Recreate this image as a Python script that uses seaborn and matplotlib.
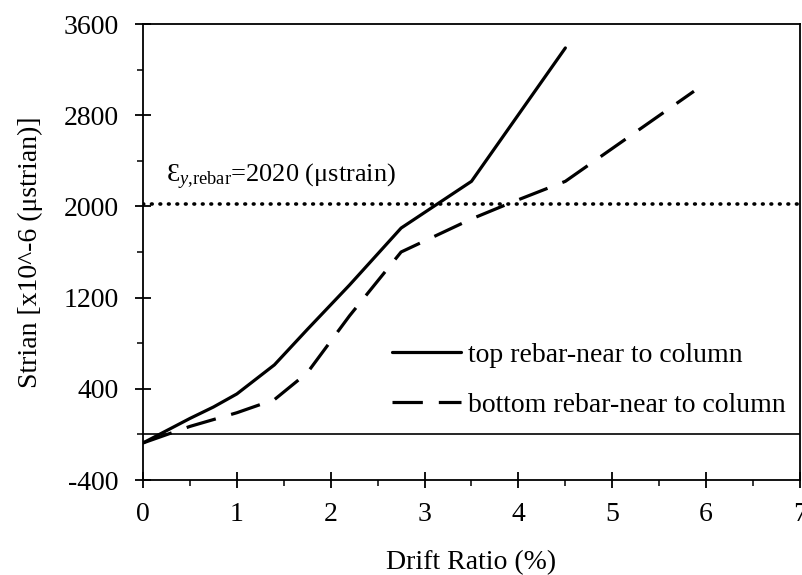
import matplotlib
matplotlib.use("Agg")
import matplotlib.pyplot as plt
from matplotlib.ticker import MultipleLocator, FixedLocator
import seaborn as sns
import pandas as pd

# Data
top_drift = [0.0, 0.5, 0.75, 1.0, 1.4, 1.75, 2.2, 2.75, 3.5, 4.5]
top_strain = [-75, 140, 240, 355, 610, 920, 1310, 1810, 2220, 3390]
bot_drift = [0.0, 0.5, 1.0, 1.4, 1.75, 2.2, 2.75, 3.5, 3.93, 4.5, 5.87]
bot_strain = [-75, 70, 190, 305, 540, 1040, 1600, 1890, 2036, 2220, 3010]
yield_strain = 2020
y_major_ticks = [-400, 400, 1200, 2000, 2800, 3600]
y_minor_ticks = [0, 800, 1600, 2400, 3200]
series_labels = ["top rebar-near to column", "bottom rebar-near to column"]
x_label = "Drift Ratio (%)"
y_label = "Strian [x10^-6 (\u03bcstrian)]"
annot_text = "\u0190$_{\\mathit{y}{,}\\mathrm{rebar}}$=2020 (\u03bcstrain)"

sns.set_style("ticks")
plt.rcParams["font.family"] = ["Liberation Serif", "DejaVu Serif"]
plt.rcParams["mathtext.fontset"] = "custom"
plt.rcParams["mathtext.rm"] = "Liberation Serif"
plt.rcParams["mathtext.it"] = "Liberation Serif:italic"
plt.rcParams["axes.unicode_minus"] = False
for k in ["text.color", "axes.labelcolor", "xtick.color", "ytick.color",
          "axes.edgecolor"]:
    plt.rcParams[k] = "black"

fig = plt.figure(figsize=(8.03, 5.75), dpi=100)
ax = fig.add_axes([143 / 803, 1 - 480 / 575, 657 / 803, 456 / 575])

df_top = pd.DataFrame({"drift": top_drift, "strain": top_strain})
df_bot = pd.DataFrame({"drift": bot_drift, "strain": bot_strain})

sns.lineplot(data=df_top, x="drift", y="strain", ax=ax, color="black",
             lw=2.3, sort=False, estimator=None, label=series_labels[0])
sns.lineplot(data=df_bot, x="drift", y="strain", ax=ax, color="black",
             lw=2.3, sort=False, estimator=None, label=series_labels[1])
ax.lines[1].set_dashes((9.5, 5))

ax.axhline(0, color="black", lw=1.2, zorder=1)
ax.axhline(yield_strain, color="black", lw=2.6,
           linestyle=(0, (0.2, 2.15)), dash_capstyle="round", zorder=1)
ax.text(0.24, 2213, annot_text, fontsize=19, va="baseline", ha="left")

ax.set_xlim(0, 7)
ax.set_ylim(-400, 3600)
ax.xaxis.set_major_locator(MultipleLocator(1))
ax.xaxis.set_minor_locator(MultipleLocator(0.5))
ax.yaxis.set_major_locator(FixedLocator(y_major_ticks))
ax.yaxis.set_minor_locator(FixedLocator(y_minor_ticks))
ax.tick_params(which="major", direction="inout", length=11, width=1.3,
               labelsize=20, color="black")
ax.tick_params(which="minor", direction="out", length=4.5, width=1.1)
ax.tick_params(axis="x", which="major", pad=10)
ax.tick_params(axis="y", which="major", pad=12)
for s in ax.spines.values():
    s.set_visible(True)
    s.set_linewidth(1.3)
    s.set_color("black")

ax.set_xlabel(x_label, fontsize=20, labelpad=17)
ax.set_ylabel(y_label, fontsize=20, labelpad=15)

leg = ax.legend(loc="center left", bbox_to_anchor=(0.379, 0.219),
                frameon=False, fontsize=20, handlelength=2.5,
                handletextpad=0.25, borderpad=0, borderaxespad=0,
                labelspacing=0.9)

fig.savefig("out.png", dpi=100)
